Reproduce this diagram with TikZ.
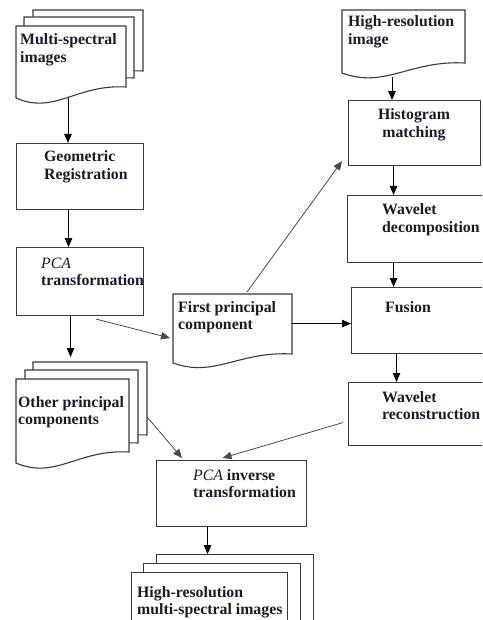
\documentclass[tikz,border=0pt]{standalone}
\usepackage{fontspec}
\setmainfont{Liberation Serif}
\usetikzlibrary{arrows.meta,calc}
\definecolor{boxc}{HTML}{3A3A3A}
\definecolor{lineg}{HTML}{4A4A4A}
\definecolor{txtc}{HTML}{1A1A28}
\newcommand{\docshape}[2]{%
  \filldraw[draw=boxc, line width=1.1pt, fill=white]
    (#1.south west) -- (#1.north west) -- (#1.north east) -- ($(#1.south east)+(0,-#2)$)
    .. controls ($(#1.south west)!0.55!(#1.south east)+(0,-#2-3)$)
    and ($(#1.south west)!0.35!(#1.south east)+(0,#2+6)$) .. (#1.south west) -- cycle;}
\begin{document}
\begin{tikzpicture}[x=1pt,y=-1pt,
  box/.style={draw=boxc, line width=1.1pt, fill=white, inner sep=0pt, anchor=north west},
  page/.style={inner sep=0pt, outer sep=0pt, anchor=north west, draw=none},
  lbl/.style={inner sep=0pt, anchor=base west, align=left, font=\fontsize{15.8}{17.5}\selectfont\bfseries, text=txtc},
  lblc/.style={lbl, anchor=base, align=center},
  arr/.style={draw=black, line width=0.9pt, -{Triangle[length=9pt,width=7.5pt]}},
  darr/.style={arr, draw=lineg, line width=0.8pt},
]
\useasboundingbox (0,0) rectangle (482,620);
\fill[white] (0,0) rectangle (482,620);
\clip (0,0) rectangle (482,620);

% Multi-spectral images stack
\node[page, minimum width=110pt, minimum height=72pt] (msb) at (33,10) {};
\docshape{msb}{11}
\node[page, minimum width=110pt, minimum height=72pt] (msm) at (24,17) {};
\docshape{msm}{11}
\node[page, minimum width=110pt, minimum height=72pt] (msf) at (16,26) {};
\docshape{msf}{11}
\node[lbl] (msf-t) at (20,62.5) {Multi-spectral\\images};

% Geometric registration
\node[box, minimum width=127pt, minimum height=66pt] (geo) at (16,143) {};
\node[lbl] (geo-t) at (44,179.5) {Geometric\\Registration};

% PCA transformation
\node[box, minimum width=127pt, minimum height=68pt] (pca) at (16,247) {};
\node[lbl] (pca-t) at (41,285.5) {{\mdseries\itshape PCA}\\transformation};

% High-resolution image
\node[page, minimum width=123pt, minimum height=63pt] (hri) at (342,10) {};
\docshape{hri}{10}
\node[lbl] (hri-t) at (348,44.5) {High-resolution\\image};

% Right column
\node[box, minimum width=132pt, minimum height=65pt] (hist) at (348,100) {};
\node[lblc] (hist-t) at (414,137.5) {Histogram\\matching};
\node[box, minimum width=140pt, minimum height=67pt] (wdec) at (347,195) {};
\node[lbl] (wdec-t) at (382,232.5) {Wavelet\\decomposition};
\node[box, minimum width=140pt, minimum height=66pt] (fus) at (351,287) {};
\node[lbl] (fus-t) at (385,312) {Fusion};
\node[box, minimum width=140pt, minimum height=63pt] (wrec) at (348,382) {};
\node[lbl] (wrec-t) at (382,419.5) {Wavelet\\reconstruction};

% First principal component
\node[page, minimum width=119pt, minimum height=69pt] (fpc) at (173,294) {};
\docshape{fpc}{9}
\node[lbl] (fpc-t) at (178,329.5) {First principal\\component};

% Other principal components stack
\node[page, minimum width=114pt, minimum height=84pt] (opcb) at (33,362) {};
\docshape{opcb}{11}
\node[page, minimum width=113pt, minimum height=84pt] (opcm) at (25,370) {};
\docshape{opcm}{11}
\node[page, minimum width=113pt, minimum height=84pt] (opcf) at (16,379) {};
\docshape{opcf}{11}
\node[lbl] (opc-t) at (18,424.5) {Other principal\\components};

% PCA inverse transformation
\node[box, minimum width=150pt, minimum height=66pt] (pinv) at (156,460) {};
\node[lbl] (pinv-t) at (193,497.5) {{\mdseries\itshape PCA} inverse\\transformation};

% High-resolution multi-spectral images stack
\node[box, minimum width=157pt, minimum height=90pt] (hmsb) at (156,554) {};
\node[box, minimum width=157pt, minimum height=90pt] (hmsm) at (143,563) {};
\node[box, minimum width=156pt, minimum height=90pt] (hmsf) at (131,572) {};
\node[lbl] (hms-t) at (137,614.5) {High-resolution\\multi-spectral images};

% Vertical connectors
\draw[arr] ([xshift=-3pt]msf.south) -- ([xshift=-3pt]msf.south |- geo.north);
\draw[arr] ([xshift=-11.5pt]geo.south) -- ([xshift=-11.5pt]geo.south |- pca.north);
\draw[arr, shorten >=5pt] ([xshift=-9.5pt]pca.south) -- ([xshift=-9.5pt]pca.south |- opcb.north);
\draw[arr, shorten <=4pt] ([xshift=-11.5pt]hri.south) -- ([xshift=-11.5pt]hri.south |- hist.north);
\draw[arr] ([xshift=-21pt]hist.south) -- ([xshift=-21pt]hist.south |- wdec.north);
\draw[arr] ([xshift=-24pt]wdec.south) -- ([xshift=-24pt]wdec.south |- fus.north);
\draw[arr] ([xshift=-25pt]fus.south) -- ([xshift=-25pt]fus.south |- wrec.north);
\draw[arr] ([xshift=-24pt]pinv.south) -- ([xshift=-24pt]pinv.south |- hmsb.north);

% Other connectors
\draw[darr] ([xshift=-48pt,yshift=-3pt]pca.south east) -- ([xshift=-3pt,yshift=-9.5pt]fpc.west);
\draw[darr] ([xshift=14.5pt,yshift=2pt]fpc.north) -- ([xshift=-6pt,yshift=5pt]hist.south west);
\draw[arr] ([yshift=-3pt]fus.west -| fpc.east) -- ([yshift=-3pt]fus.west);
\draw[darr] ([yshift=-13pt]opcb.east) -- ([xshift=26pt,yshift=2pt]pinv.north west);
\draw[darr] ([xshift=-5pt,yshift=-8.5pt]wrec.west) -- ([xshift=-9pt,yshift=2pt]pinv.north);
\end{tikzpicture}
\end{document}
